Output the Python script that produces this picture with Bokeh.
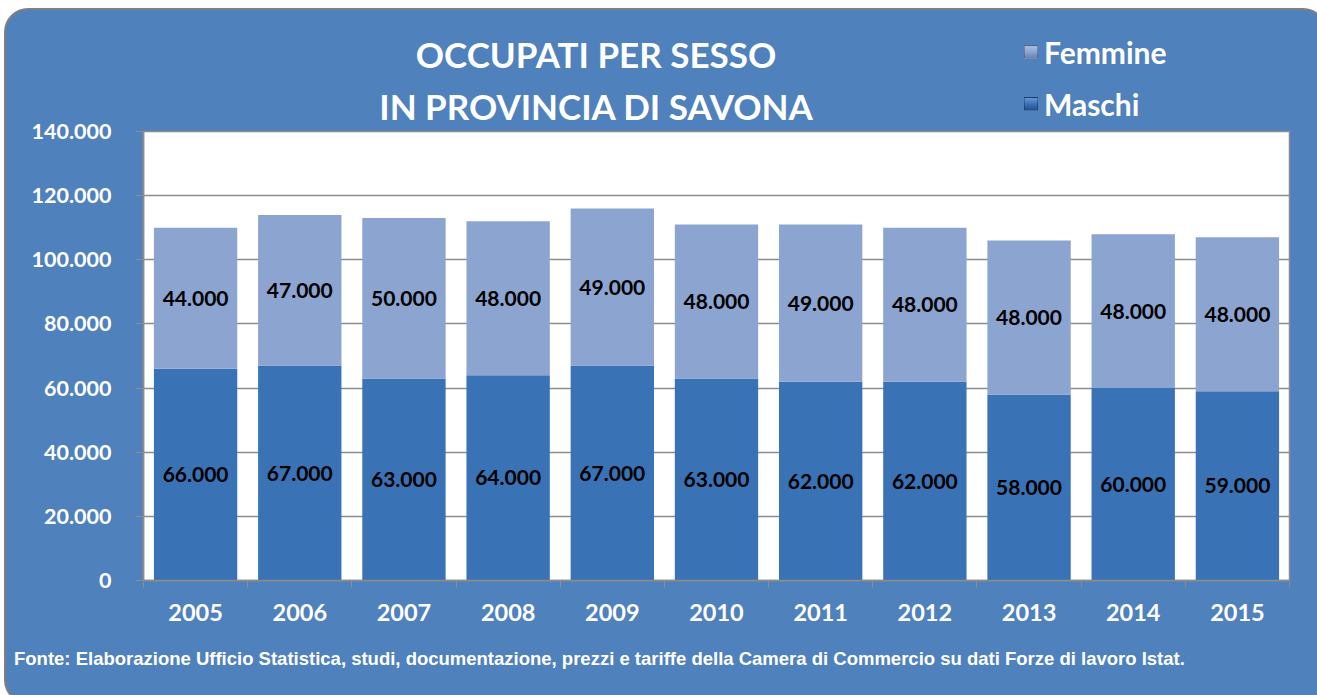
from bokeh.plotting import figure
from bokeh.models import (ColumnDataSource, Range1d, FixedTicker, CustomJSTickFormatter,
                          LabelSet, Div)
from bokeh.layouts import column
from bokeh.core.properties import value
from bokeh.embed import file_html
from bokeh.resources import INLINE

years = [2005, 2006, 2007, 2008, 2009, 2010, 2011, 2012, 2013, 2014, 2015]
maschi = [66000, 67000, 63000, 64000, 67000, 63000, 62000, 62000, 58000, 60000, 59000]
femmine = [44000, 47000, 50000, 48000, 49000, 48000, 49000, 48000, 48000, 48000, 48000]
y_ticks = [0, 20000, 40000, 60000, 80000, 100000, 120000, 140000]
series_names = ["Maschi", "Femmine"]
series_colors = ["#3A72B6", "#8BA4D0"]
title_lines = ["OCCUPATI PER SESSO", "IN PROVINCIA DI SAVONA"]
source_note = ("Fonte: Elaborazione Ufficio Statistica, studi, documentazione, prezzi e tariffe "
               "della Camera di Commercio su dati Forze di lavoro Istat.")

BG = "#4F81BD"
FONT = "Lato"
W = 1309

def fmt(v):
    return f"{v:,}".replace(",", ".")

src = ColumnDataSource(dict(
    year=years,
    maschi=maschi,
    femmine=femmine,
    m_mid=[m / 2 for m in maschi],
    f_mid=[m + f / 2 for m, f in zip(maschi, femmine)],
    m_lab=[fmt(v) for v in maschi],
    f_lab=[fmt(v) for v in femmine],
))

# ---------- header (title + legend) ----------
sq = ("display:inline-block;width:14px;height:14px;margin-right:6px;vertical-align:middle;"
      "border:1px solid rgba(0,0,0,0.25);")
legend_html = (
    f'<div style="position:absolute;left:1013px;top:18px;line-height:30px;">'
    f'<span style="{sq}background:linear-gradient(#a9bde0,{series_colors[1]},#6a82b0);"></span>'
    f'<span style="vertical-align:middle;">{series_names[1]}</span></div>'
    f'<div style="position:absolute;left:1013px;top:70px;line-height:30px;">'
    f'<span style="{sq}background:linear-gradient(#6396d6,{series_colors[0]},#26508a);"></span>'
    f'<span style="vertical-align:middle;">{series_names[0]}</span></div>'
)
header = Div(
    text=(f'<div style="position:relative;width:{W}px;height:91px;font-family:{FONT};'
          f'font-weight:bold;color:white;">'
          f'<div style="position:absolute;left:285px;width:600px;top:13px;text-align:center;'
          f'font-size:35px;line-height:52px;white-space:nowrap;">{title_lines[0]}<br>{title_lines[1]}</div>'
          f'<div style="font-size:30px;">{legend_html}</div></div>'),
    width=W, height=91, styles={"overflow": "visible", "z-index": "2"})

# ---------- chart ----------
p = figure(width=W, height=519, output_backend="svg", toolbar_location=None,
           x_range=Range1d(years[0] - 0.5, years[-1] + 0.5),
           y_range=Range1d(0, 140000),
           min_border_left=137, min_border_right=26, min_border_top=20, min_border_bottom=50)

p.background_fill_color = "white"
p.border_fill_alpha = 0
p.outline_line_color = "#8c8c8c"
p.outline_line_width = 1.5

r = p.vbar_stack(["maschi", "femmine"], x="year", width=0.8, source=src,
                 color=series_colors, line_color=None)

for ycol, tcol in [("m_mid", "m_lab"), ("f_mid", "f_lab")]:
    p.add_layout(LabelSet(x="year", y=ycol, text=tcol, source=src, text_align="center",
                          text_baseline="middle", text_font=value(FONT),
                          text_font_style="bold", text_font_size="21px", text_color="black"))

p.xaxis.ticker = FixedTicker(ticks=years, minor_ticks=[y + 0.5 for y in [years[0] - 1] + years])
p.xaxis.major_tick_line_color = None
p.xaxis.minor_tick_line_color = "#8c8c8c"
p.xaxis.minor_tick_out = 7
p.xaxis.minor_tick_in = 0
p.xaxis.axis_line_color = "#8c8c8c"
p.xaxis.axis_line_width = 1.5
p.xaxis.major_label_text_font = FONT
p.xaxis.major_label_text_font_style = "bold"
p.xaxis.major_label_text_font_size = "23.5px"
p.xaxis.major_label_text_color = "white"
p.xaxis.major_label_standoff = 16

p.yaxis.ticker = FixedTicker(ticks=y_ticks, minor_ticks=[])
p.yaxis.formatter = CustomJSTickFormatter(code="""
    if (tick == 0) return "0";
    return (tick/1000).toFixed(0) + ".000";
""")
p.yaxis.major_tick_line_color = "#8c8c8c"
p.yaxis.major_tick_out = 8
p.yaxis.major_tick_in = 0
p.yaxis.axis_line_color = "#8c8c8c"
p.yaxis.axis_line_width = 1.5
p.yaxis.major_label_text_font = FONT
p.yaxis.major_label_text_font_style = "bold"
p.yaxis.major_label_text_font_size = "21.5px"
p.yaxis.major_label_text_color = "white"
p.yaxis.major_label_standoff = 24

p.xgrid.grid_line_color = None
p.ygrid.grid_line_color = "#8c8c8c"
p.ygrid.grid_line_width = 1.5

# ---------- footer ----------
footer = Div(
    text=(f'<div style="font-family:\'Liberation Sans Narrow\',\'Arial Narrow\',sans-serif;'
          f'font-weight:bold;font-size:18.5px;color:white;padding-left:3px;padding-top:11px;'
          f'white-space:nowrap;">{source_note}</div>'),
    width=W, height=62)

layout = column(header, p, footer, spacing=0,
                styles={"background-color": BG, "border-radius": "22px",
                        "box-shadow": "0 0 0 2px #7f7f7f", "margin-left": "6px",
                        "margin-top": "10px"})

open("out.html", "w").write(file_html(layout, INLINE))
